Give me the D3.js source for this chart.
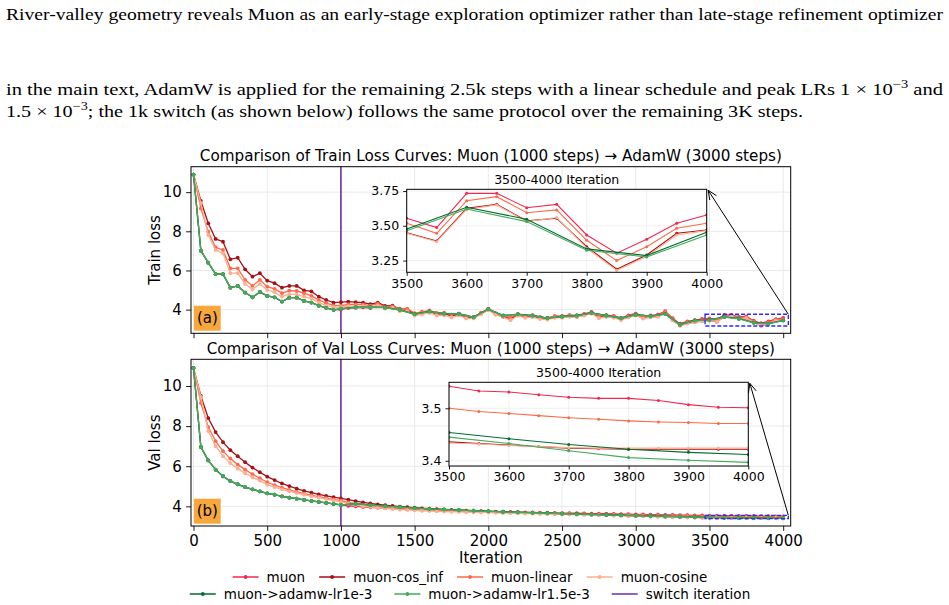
<!DOCTYPE html>
<html>
<head>
<meta charset="utf-8">
<script src="https://cdn.jsdelivr.net/npm/d3@7"></script>
<style>
  body { margin: 0; background: #fff; }
</style>
</head>
<body>
<script>
// ---------------- data ----------------
// muon series are logged every 50 steps, the adamw runs every 50 up to the
// switch and every 100 after it
var steps = d3.range(0, 4001, 50);
var adamwSteps = d3.range(0, 1001, 50).concat(d3.range(1100, 4001, 100));

var seriesNames = ["muon", "muon-cos_inf", "muon-linear", "muon-cosine",
  "muon->adamw-lr1e-3", "muon->adamw-lr1.5e-3"];
var seriesColors = ["#f0284f", "#a50f15", "#fb6a4a", "#fcae91", "#006d2c", "#41ab5d"];

var xTicks = [0, 500, 1000, 1500, 2000, 2500, 3000, 3500, 4000];
var yTicks = [4, 6, 8, 10];
var insetXTicks = [3500, 3600, 3700, 3800, 3900, 4000];
var switchStep = 1000;

// first 1000 steps are the same constant-lr muon run
var trainEarly = [10.9, 7.01, 6.40, 5.81, 5.81, 5.12, 5.21, 4.87, 4.63, 4.90,
  4.70, 4.63, 4.41, 4.61, 4.61, 4.44, 4.36, 4.20, 4.09, 3.99];
var valEarly = [10.9, 6.96, 6.29, 5.83, 5.50, 5.26, 5.10, 4.96, 4.85, 4.75,
  4.65, 4.58, 4.50, 4.43, 4.38, 4.32, 4.27, 4.22, 4.17, 4.12];

var trainMuon = trainEarly.concat([
  4.00, 4.08, 4.10, 4.12, 4.08, 4.20, 4.06, 4.10, 3.95, 3.96,
  3.74, 3.82, 3.90, 3.78, 3.80, 3.70, 3.76, 3.62, 3.60, 3.82,
  4.02, 3.80, 3.68, 3.58, 3.76, 3.66, 3.70, 3.62, 3.58, 3.66,
  3.66, 3.72, 3.70, 3.78, 3.88, 3.70, 3.72, 3.68, 3.58, 3.70,
  3.80, 3.66, 3.70, 3.74, 3.92, 3.56, 3.28, 3.40, 3.46, 3.52,
  3.554, 3.487, 3.733, 3.733, 3.63, 3.654, 3.434, 3.303, 3.403, 3.518, 3.578]);
var trainCosInf = [10.9, 9.55, 8.41, 7.61, 7.47, 6.57, 6.65, 6.06, 5.68, 5.86,
  5.48, 5.35, 5.12, 5.21, 5.21, 4.98, 4.93, 4.66, 4.49, 4.36,
  4.38, 4.41, 4.38, 4.36, 4.28, 4.36, 4.19, 4.20, 4.03, 4.02,
  3.78, 3.85, 3.92, 3.79, 3.80, 3.69, 3.75, 3.60, 3.58, 3.79,
  3.99, 3.76, 3.64, 3.54, 3.72, 3.62, 3.66, 3.57, 3.53, 3.61,
  3.61, 3.66, 3.64, 3.72, 3.81, 3.63, 3.65, 3.61, 3.51, 3.62,
  3.72, 3.58, 3.62, 3.66, 3.83, 3.47, 3.19, 3.31, 3.36, 3.42,
  3.45, 3.391, 3.625, 3.654, 3.535, 3.554, 3.35, 3.188, 3.29, 3.446, 3.47];
var trainLinear = [10.9, 9.17, 7.98, 7.18, 7.05, 6.11, 6.11, 5.52, 5.21, 5.52,
  5.17, 5.06, 4.84, 4.97, 4.95, 4.84, 4.70, 4.49, 4.33, 4.22,
  4.20, 4.26, 4.26, 4.26, 4.20, 4.30, 4.14, 4.17, 4.01, 4.03,
  3.82, 3.89, 3.96, 3.83, 3.84, 3.74, 3.79, 3.65, 3.63, 3.84,
  4.04, 3.82, 3.69, 3.59, 3.77, 3.66, 3.70, 3.62, 3.57, 3.65,
  3.65, 3.71, 3.69, 3.76, 3.86, 3.68, 3.70, 3.66, 3.55, 3.67,
  3.77, 3.63, 3.67, 3.71, 3.89, 3.53, 3.25, 3.37, 3.43, 3.48,
  3.518, 3.446, 3.68, 3.709, 3.594, 3.614, 3.396, 3.25, 3.35, 3.482, 3.518];
var trainCosine = [10.9, 9.45, 7.81, 7.05, 6.88, 5.86, 5.86, 5.31, 5.04, 5.31,
  5.00, 4.89, 4.66, 4.79, 4.77, 4.66, 4.56, 4.36, 4.20, 4.12,
  4.12, 4.18, 4.18, 4.18, 4.12, 4.22, 4.06, 4.09, 3.92, 3.92,
  3.70, 3.76, 3.83, 3.70, 3.71, 3.60, 3.70, 3.55, 3.55, 3.76,
  3.97, 3.74, 3.62, 3.46, 3.69, 3.58, 3.62, 3.52, 3.49, 3.58,
  3.59, 3.64, 3.62, 3.70, 3.80, 3.56, 3.63, 3.59, 3.46, 3.60,
  3.71, 3.54, 3.61, 3.64, 3.80, 3.44, 3.17, 3.29, 3.35, 3.41,
  3.446, 3.386, 3.618, 3.65, 3.53, 3.559, 3.339, 3.18, 3.279, 3.434, 3.465];
var trainAdamw1 = trainEarly.concat([4.05,
  4.12, 4.12, 4.11, 3.99, 3.77, 3.91, 3.80, 3.79, 3.62, 4.03,
  3.70, 3.77, 3.70, 3.57, 3.65, 3.70, 3.83, 3.70, 3.57, 3.74,
  3.67, 3.78, 3.24, 3.45, 3.477, 3.633, 3.547, 3.334, 3.286, 3.453]);
var trainAdamw15 = trainEarly.concat([4.05,
  4.10, 4.11, 4.10, 3.98, 3.76, 3.90, 3.79, 3.78, 3.61, 4.02,
  3.69, 3.76, 3.69, 3.56, 3.64, 3.69, 3.82, 3.69, 3.56, 3.73,
  3.66, 3.77, 3.23, 3.44, 3.465, 3.62, 3.53, 3.324, 3.276, 3.434]);

var valMuon = valEarly.concat([
  4.07, 4.03, 4.00, 3.97, 3.95, 3.93, 3.91, 3.89, 3.88, 3.86,
  3.85, 3.84, 3.82, 3.81, 3.80, 3.79, 3.78, 3.77, 3.76, 3.755,
  3.75, 3.74, 3.73, 3.72, 3.71, 3.70, 3.695, 3.69, 3.68, 3.675,
  3.665, 3.66, 3.655, 3.65, 3.64, 3.635, 3.63, 3.62, 3.615, 3.61,
  3.60, 3.595, 3.59, 3.585, 3.578, 3.572, 3.565, 3.558, 3.552, 3.547,
  3.542, 3.533, 3.531, 3.526, 3.521, 3.519, 3.519, 3.515, 3.507, 3.502, 3.501]);
var valCosInf = [10.9, 9.50, 8.40, 7.70, 7.20, 6.80, 6.50, 6.20, 5.93, 5.70,
  5.48, 5.31, 5.14, 5.01, 4.88, 4.77, 4.68, 4.60, 4.52, 4.46,
  4.40, 4.33, 4.26, 4.20, 4.15, 4.10, 4.06, 4.02, 3.99, 3.96,
  3.93, 3.90, 3.88, 3.86, 3.84, 3.82, 3.80, 3.78, 3.765, 3.75,
  3.74, 3.725, 3.71, 3.70, 3.69, 3.675, 3.665, 3.655, 3.645, 3.635,
  3.625, 3.615, 3.605, 3.595, 3.585, 3.575, 3.565, 3.555, 3.545, 3.535,
  3.525, 3.515, 3.505, 3.495, 3.485, 3.475, 3.465, 3.455, 3.447, 3.441,
  3.436, 3.433, 3.43, 3.427, 3.424, 3.423, 3.422, 3.422, 3.422, 3.422, 3.422];
var valLinear = [10.9, 9.15, 7.95, 7.25, 6.75, 6.38, 6.08, 5.83, 5.60, 5.40,
  5.20, 5.06, 4.93, 4.82, 4.72, 4.63, 4.55, 4.48, 4.41, 4.35,
  4.29, 4.20, 4.13, 4.08, 4.03, 3.99, 3.96, 3.93, 3.90, 3.88,
  3.86, 3.84, 3.82, 3.80, 3.79, 3.78, 3.765, 3.755, 3.745, 3.735,
  3.725, 3.715, 3.705, 3.695, 3.685, 3.677, 3.67, 3.662, 3.655, 3.647,
  3.64, 3.632, 3.625, 3.617, 3.61, 3.602, 3.595, 3.588, 3.581, 3.574,
  3.567, 3.56, 3.553, 3.546, 3.539, 3.532, 3.525, 3.518, 3.511, 3.505,
  3.50, 3.494, 3.49, 3.486, 3.482, 3.479, 3.476, 3.474, 3.473, 3.471, 3.471];
var valCosine = [10.9, 9.45, 7.75, 7.00, 6.50, 6.15, 5.88, 5.65, 5.45, 5.28,
  5.08, 4.96, 4.85, 4.75, 4.66, 4.58, 4.50, 4.43, 4.36, 4.29,
  4.22, 4.13, 4.06, 4.01, 3.97, 3.93, 3.90, 3.87, 3.84, 3.82,
  3.80, 3.78, 3.765, 3.75, 3.74, 3.73, 3.72, 3.71, 3.70, 3.695,
  3.69, 3.68, 3.67, 3.66, 3.65, 3.64, 3.632, 3.624, 3.616, 3.608,
  3.60, 3.592, 3.584, 3.576, 3.568, 3.56, 3.552, 3.544, 3.536, 3.528,
  3.51, 3.50, 3.49, 3.48, 3.47, 3.462, 3.454, 3.447, 3.441, 3.437,
  3.434, 3.432, 3.429, 3.427, 3.425, 3.424, 3.424, 3.424, 3.424, 3.424, 3.424];
var valAdamw1 = valEarly.concat([4.07,
  4.13, 4.07, 4.02, 3.97, 3.92, 3.88, 3.85, 3.82, 3.79, 3.76,
  3.73, 3.71, 3.69, 3.67, 3.64, 3.62, 3.60, 3.58, 3.56, 3.54,
  3.52, 3.505, 3.49, 3.472, 3.454, 3.442, 3.431, 3.422, 3.416, 3.412]);
var valAdamw15 = valEarly.concat([4.07,
  4.12, 4.06, 4.01, 3.96, 3.91, 3.87, 3.84, 3.81, 3.78, 3.75,
  3.72, 3.70, 3.68, 3.66, 3.63, 3.61, 3.59, 3.57, 3.55, 3.53,
  3.51, 3.495, 3.48, 3.465, 3.445, 3.433, 3.419, 3.406, 3.401, 3.397]);

// ---------------- drawing ----------------
var W = 949, H = 605;
var FONT = "DejaVu Sans";
var svg = d3.select("body").append("svg")
  .attr("width", W).attr("height", H)
  .style("font-family", FONT);

// paper text above the figure
var serif = "Liberation Serif";
svg.append("text").attr("x", 6).attr("y", 20)
  .attr("font-family", serif).attr("font-size", 17.5)
  .attr("textLength", 937).attr("lengthAdjust", "spacingAndGlyphs")
  .text("River-valley geometry reveals Muon as an early-stage exploration optimizer rather than late-stage refinement optimizer");
var l2 = svg.append("text").attr("x", 6).attr("y", 95)
  .attr("font-family", serif).attr("font-size", 17)
  .attr("textLength", 937).attr("lengthAdjust", "spacingAndGlyphs");
l2.append("tspan").text("in the main text, AdamW is applied for the remaining 2.5k steps with a linear schedule and peak LRs 1 \u00d7 10");
l2.append("tspan").attr("dy", -7).attr("font-size", 12).text("\u22123");
l2.append("tspan").attr("dy", 7).text(" and");
var l3 = svg.append("text").attr("x", 6).attr("y", 117)
  .attr("font-family", serif).attr("font-size", 17)
  .attr("textLength", 797).attr("lengthAdjust", "spacingAndGlyphs");
l3.append("tspan").text("1.5 \u00d7 10");
l3.append("tspan").attr("dy", -7).attr("font-size", 12).text("\u22123");
l3.append("tspan").attr("dy", 7).text("; the 1k switch (as shown below) follows the same protocol over the remaining 3K steps.");

var plotLeft = 191, plotRight = 790.7;
var x = d3.scaleLinear().domain([-17, 4051]).range([plotLeft, plotRight]);

var panels = [
  {
    id: "a", top: 166.7, bottom: 333.3, yDomain: [2.79, 11.3],
    ylabel: "Train loss", titleY: 161, xLabels: false,
    title: "Comparison of Train Loss Curves: Muon (1000 steps) \u2192 AdamW (3000 steps)",
    tag: {x0: 194, x1: 220.7, y0: 305.7, y1: 330.7, text: "(a)"},
    series: [trainMuon, trainCosInf, trainLinear, trainCosine, trainAdamw1, trainAdamw15],
    inset: {left: 406.7, right: 706.7, top: 189.3, bottom: 272.3,
      yDomain: [3.166, 3.762], yTicks: [3.25, 3.5, 3.75], fmt: ".2f"}
  },
  {
    id: "b", top: 359.3, bottom: 526, yDomain: [3.02, 11.33],
    ylabel: "Val loss", titleY: 353.5, xLabels: true,
    title: "Comparison of Val Loss Curves: Muon (1000 steps) \u2192 AdamW (3000 steps)",
    tag: {x0: 194, x1: 220.7, y0: 498.7, y1: 523.7, text: "(b)"},
    series: [valMuon, valCosInf, valLinear, valCosine, valAdamw1, valAdamw15],
    inset: {left: 449, right: 748.3, top: 382.3, bottom: 466,
      yDomain: [3.39, 3.5496], yTicks: [3.4, 3.5], fmt: ".1f"}
  }
];

function stepsFor(i) { return i >= 4 ? adamwSteps : steps; }

function styleAxis(sel, size) {
  sel.attr("font-family", FONT).attr("font-size", size);
  sel.select(".domain").remove();
  sel.selectAll(".tick line").attr("stroke", "#000").attr("stroke-width", 0.9);
  sel.selectAll(".tick text").attr("fill", "#000");
}

function arrow(g, sx, sy, ex, ey) {
  g.append("line").attr("x1", sx).attr("y1", sy).attr("x2", ex).attr("y2", ey)
    .attr("stroke", "#000").attr("stroke-width", 1);
  var dx = ex - sx, dy = ey - sy, len = Math.hypot(dx, dy);
  var ux = dx / len, uy = dy / len, L = 9, w = 4;
  var bx = ex - ux * L, by = ey - uy * L;
  g.append("path")
    .attr("d", "M" + (bx - uy * w) + "," + (by + ux * w) + "L" + ex + "," + ey +
      "L" + (bx + uy * w) + "," + (by - ux * w))
    .attr("fill", "none").attr("stroke", "#000").attr("stroke-width", 1);
}

panels.forEach(function(p) {
  var y = d3.scaleLinear().domain(p.yDomain).range([p.bottom, p.top]);
  var g = svg.append("g");

  // grid
  g.selectAll(".vg").data(xTicks).join("line")
    .attr("x1", function(d) { return x(d); }).attr("x2", function(d) { return x(d); })
    .attr("y1", p.top).attr("y2", p.bottom)
    .attr("stroke", "#e6e6e6").attr("stroke-width", 0.9);
  g.selectAll(".hg").data(yTicks).join("line")
    .attr("x1", plotLeft).attr("x2", plotRight)
    .attr("y1", function(d) { return y(d); }).attr("y2", function(d) { return y(d); })
    .attr("stroke", "#e6e6e6").attr("stroke-width", 0.9);

  // switch iteration
  g.append("line").attr("x1", x(switchStep)).attr("x2", x(switchStep))
    .attr("y1", p.top).attr("y2", p.bottom)
    .attr("stroke", "#6f2da8").attr("stroke-width", 1.6);

  // curves
  p.series.forEach(function(vals, i) {
    var st = stepsFor(i);
    var line = d3.line()
      .x(function(d, j) { return x(st[j]); })
      .y(function(d) { return y(d); });
    g.append("path").datum(vals).attr("d", line)
      .attr("fill", "none").attr("stroke", seriesColors[i]).attr("stroke-width", 1.3);
    g.selectAll(".m" + i).data(vals).join("circle")
      .attr("cx", function(d, j) { return x(st[j]); })
      .attr("cy", function(d) { return y(d); })
      .attr("r", 1.9).attr("fill", seriesColors[i]);
  });

  // zoom window on the main axes
  var ins = p.inset;
  g.append("rect")
    .attr("x", x(3470)).attr("y", y(ins.yDomain[1]))
    .attr("width", x(4035) - x(3470))
    .attr("height", y(ins.yDomain[0]) - y(ins.yDomain[1]))
    .attr("fill", "none").attr("stroke", "#2a2aff").attr("stroke-width", 1.4)
    .attr("stroke-dasharray", "4,2");

  // frame
  g.append("rect").attr("x", plotLeft).attr("y", p.top)
    .attr("width", plotRight - plotLeft).attr("height", p.bottom - p.top)
    .attr("fill", "none").attr("stroke", "#000").attr("stroke-width", 1);

  // axes
  var ay = g.append("g").attr("transform", "translate(" + plotLeft + ",0)")
    .call(d3.axisLeft(y).tickValues(yTicks).tickFormat(d3.format("d")).tickSize(4.9).tickPadding(4.3));
  styleAxis(ay, 15);
  var ax = g.append("g").attr("transform", "translate(0," + p.bottom + ")")
    .call(d3.axisBottom(x).tickValues(xTicks).tickFormat(p.xLabels ? d3.format("d") : "")
      .tickSize(4.9).tickPadding(4.6));
  styleAxis(ax, 15);

  // labels
  g.append("text").attr("x", (plotLeft + plotRight) / 2).attr("y", p.titleY)
    .attr("text-anchor", "middle").attr("font-size", 15.2).text(p.title);
  g.append("text")
    .attr("transform", "translate(159.5," + (p.top + p.bottom) / 2 + ") rotate(-90)")
    .attr("text-anchor", "middle").attr("font-size", 15).text(p.ylabel);
  if (p.xLabels) {
    g.append("text").attr("x", (plotLeft + plotRight) / 2).attr("y", 562.5)
      .attr("text-anchor", "middle").attr("font-size", 15).text("Iteration");
  }

  // panel tag
  g.append("rect").attr("x", p.tag.x0).attr("y", p.tag.y0)
    .attr("width", p.tag.x1 - p.tag.x0).attr("height", p.tag.y1 - p.tag.y0)
    .attr("fill", "#f7a73c");
  g.append("text").attr("x", (p.tag.x0 + p.tag.x1) / 2).attr("y", p.tag.y1 - 8)
    .attr("text-anchor", "middle").attr("font-size", 15).text(p.tag.text);

  // inset
  var xi = d3.scaleLinear().domain([3500, 4000]).range([ins.left, ins.right]);
  var yi = d3.scaleLinear().domain(ins.yDomain).range([ins.bottom, ins.top]);
  var gi = svg.append("g");
  gi.append("rect").attr("x", ins.left).attr("y", ins.top)
    .attr("width", ins.right - ins.left).attr("height", ins.bottom - ins.top)
    .attr("fill", "#fff");
  gi.selectAll(".ivg").data(insetXTicks).join("line")
    .attr("x1", function(d) { return xi(d); }).attr("x2", function(d) { return xi(d); })
    .attr("y1", ins.top).attr("y2", ins.bottom)
    .attr("stroke", "#ececec").attr("stroke-width", 0.8);
  gi.selectAll(".ihg").data(ins.yTicks).join("line")
    .attr("x1", ins.left).attr("x2", ins.right)
    .attr("y1", function(d) { return yi(d); }).attr("y2", function(d) { return yi(d); })
    .attr("stroke", "#ececec").attr("stroke-width", 0.8);

  var clipId = "clip-" + p.id;
  svg.append("clipPath").attr("id", clipId).append("rect")
    .attr("x", ins.left).attr("y", ins.top)
    .attr("width", ins.right - ins.left).attr("height", ins.bottom - ins.top);
  var gc = gi.append("g").attr("clip-path", "url(#" + clipId + ")");
  p.series.forEach(function(vals, i) {
    var st = stepsFor(i);
    var pts = vals.map(function(v, j) { return [st[j], v]; })
      .filter(function(d) { return d[0] >= 3450; });
    gc.append("path").datum(pts)
      .attr("d", d3.line().x(function(d) { return xi(d[0]); }).y(function(d) { return yi(d[1]); }))
      .attr("fill", "none").attr("stroke", seriesColors[i]).attr("stroke-width", 1.1);
    gc.selectAll(".im" + i).data(pts.filter(function(d) { return d[0] >= 3500; })).join("circle")
      .attr("cx", function(d) { return xi(d[0]); })
      .attr("cy", function(d) { return yi(d[1]); })
      .attr("r", 1.5).attr("fill", seriesColors[i]);
  });
  gi.append("rect").attr("x", ins.left).attr("y", ins.top)
    .attr("width", ins.right - ins.left).attr("height", ins.bottom - ins.top)
    .attr("fill", "none").attr("stroke", "#000").attr("stroke-width", 1);
  var iay = gi.append("g").attr("transform", "translate(" + ins.left + ",0)")
    .call(d3.axisLeft(yi).tickValues(ins.yTicks).tickFormat(d3.format(ins.fmt)).tickSize(3.5).tickPadding(4));
  styleAxis(iay, 12.5);
  var iax = gi.append("g").attr("transform", "translate(0," + ins.bottom + ")")
    .call(d3.axisBottom(xi).tickValues(insetXTicks).tickFormat(d3.format("d")).tickSize(3.5).tickPadding(3));
  styleAxis(iax, 12.5);
  gi.append("text").attr("x", (ins.left + ins.right) / 2).attr("y", ins.top - 5)
    .attr("text-anchor", "middle").attr("font-size", 12.5).text("3500-4000 Iteration");

  arrow(gi, x(4035), y(ins.yDomain[1]), ins.right + 1.5, ins.top + 1);
});

// legend: two centred rows
var legendRows = [
  {y: 577, gap: 14, items: [0, 1, 2, 3]},
  {y: 594, gap: 22, items: [4, 5, 6]}
];
var legendCenter = 470, handleLen = 26, handlePad = 8;
var lg = svg.append("g");
legendRows.forEach(function(row) {
  var items = row.items.map(function(i) {
    var color = i < 6 ? seriesColors[i] : "#6f2da8";
    var label = i < 6 ? seriesNames[i] : "switch iteration";
    var t = lg.append("text").attr("y", row.y + 4.5).attr("font-size", 13.5).text(label);
    return {i: i, color: color, t: t, w: t.node().getComputedTextLength()};
  });
  var total = d3.sum(items, function(d) { return handleLen + handlePad + d.w; }) +
    row.gap * (items.length - 1);
  var cx = legendCenter - total / 2;
  items.forEach(function(it) {
    lg.append("line").attr("x1", cx).attr("x2", cx + handleLen)
      .attr("y1", row.y).attr("y2", row.y)
      .attr("stroke", it.color).attr("stroke-width", 1.5);
    if (it.i < 6) {
      lg.append("circle").attr("cx", cx + handleLen / 2).attr("cy", row.y)
        .attr("r", 1.9).attr("fill", it.color);
    }
    it.t.attr("x", cx + handleLen + handlePad);
    cx += handleLen + handlePad + it.w + row.gap;
  });
});
</script>
</body>
</html>
